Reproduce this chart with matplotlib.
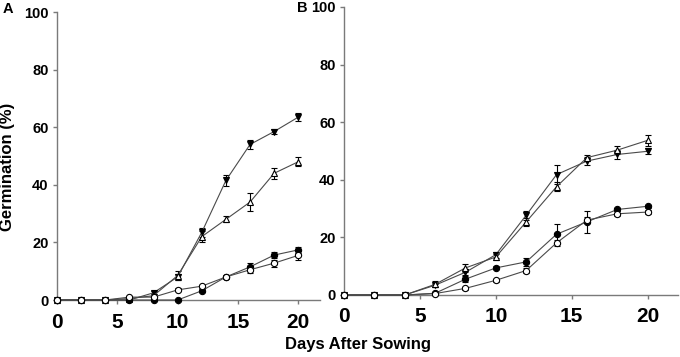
import matplotlib
matplotlib.use("Agg")
import matplotlib.pyplot as plt

plt.rcParams['font.family'] = ['Liberation Sans', 'DejaVu Sans']
plt.rcParams['font.weight'] = 'bold'

days = [0, 2, 4, 6, 8, 10, 12, 14, 16, 18, 20]

# Panel A
a_down_filled = [0, 0, 0, 0, 2.5, 8, 23.5, 41.5, 54, 58.5, 63.5]
a_down_filled_err = [0, 0, 0, 0, 0.5, 1, 1.5, 2, 1.5, 1, 1.5]
a_up_open = [0, 0, 0, 0.5, 1.5, 8.5, 22, 28, 34, 44, 48]
a_up_open_err = [0, 0, 0, 0, 0.5, 1.5, 2, 1, 3, 2, 1.5]
a_circ_filled = [0, 0, 0, 0, 0, 0, 3.2, 8, 11.5, 15.6, 17.4]
a_circ_filled_err = [0, 0, 0, 0, 0, 0, 0.5, 0.5, 1.5, 1, 1]
a_circ_open = [0, 0, 0, 1, 1, 3.5, 4.8, 8, 10.5, 12.8, 15.5]
a_circ_open_err = [0, 0, 0, 0, 0.5, 0.5, 0.5, 0.8, 1.2, 1.2, 1.5]

# Panel B
b_down_filled = [0, 0, 0, 3.4, 7.9, 14, 27.7, 41.8, 46.5, 48.8, 49.9]
b_down_filled_err = [0, 0, 0, 0.5, 1, 1, 1.5, 3.3, 1.5, 1.5, 1]
b_up_open = [0, 0, 0, 3.7, 9.4, 13.2, 25.4, 37.6, 47.7, 50.3, 53.7]
b_up_open_err = [0, 0, 0, 1, 1.5, 1, 1.5, 1.5, 1, 1.5, 2]
b_circ_filled = [0, 0, 0, 0.6, 5.5, 9.4, 11.5, 21.1, 25.4, 29.7, 30.8]
b_circ_filled_err = [0, 0, 0, 0, 1, 0.5, 1.5, 3.4, 3.7, 0.5, 0.5]
b_circ_open = [0, 0, 0, 0.5, 2.3, 5.1, 8.5, 18.1, 26, 28.2, 28.8]
b_circ_open_err = [0, 0, 0, 0, 0.5, 0.5, 0.8, 1, 1, 0.8, 0.8]

x_ticks = [0, 5, 10, 15, 20]
y_ticks = [0, 20, 40, 60, 80, 100]

fig = plt.figure(figsize=(6.8, 3.57), dpi=100)
axA = fig.add_axes([57/680, 1-300/357, 263/680, 288/357])
axB = fig.add_axes([344/680, 1-295/357, 334/680, 288/357])

styles = [
    dict(marker='v', mfc='black'),
    dict(marker='^', mfc='white'),
    dict(marker='o', mfc='black'),
    dict(marker='o', mfc='white'),
]

def draw(ax, series, xmax):
    for (vals, errs), st in zip(series, styles):
        ax.errorbar(days, vals, yerr=errs, color='#4a4a4a', lw=0.8,
                    ecolor='black', elinewidth=0.8, capsize=2.5, capthick=0.8,
                    marker=st['marker'], mfc=st['mfc'], mec='black',
                    ms=4.5, mew=0.8, clip_on=False, zorder=3)
    ax.set_xlim(0, xmax)
    ax.set_ylim(0, 100)
    ax.set_xticks(x_ticks)
    ax.set_yticks(y_ticks)
    for s in ['top', 'right']:
        ax.spines[s].set_visible(False)
    for s in ['left', 'bottom']:
        ax.spines[s].set_color('#7a7a7a')
        ax.spines[s].set_linewidth(1.0)
    ax.tick_params(axis='both', direction='out', length=3, color='#7a7a7a', width=1)
    ax.tick_params(axis='x', labelsize=15, pad=6)
    ax.tick_params(axis='y', labelsize=10.5, pad=3)
    for lab in ax.get_xticklabels() + ax.get_yticklabels():
        lab.set_fontweight('bold')

draw(axA, [(a_down_filled, a_down_filled_err), (a_up_open, a_up_open_err),
           (a_circ_filled, a_circ_filled_err), (a_circ_open, a_circ_open_err)], 21.8)
draw(axB, [(b_down_filled, b_down_filled_err), (b_up_open, b_up_open_err),
           (b_circ_filled, b_circ_filled_err), (b_circ_open, b_circ_open_err)], 22)

fig.text(3/680, 1-9/357, 'A', fontsize=10.5, fontweight='bold', ha='left', va='center')
fig.text(297/680, 1-8/357, 'B', fontsize=10.5, fontweight='bold', ha='left', va='center')
fig.text(8/680, 1-166.7/357, 'Germination (%)', rotation=90, fontsize=12,
         fontweight='bold', ha='center', va='center')
fig.text(358/680, 1-345/357, 'Days After Sowing', fontsize=12,
         fontweight='bold', ha='center', va='center')

fig.savefig('out.png', dpi=100)
